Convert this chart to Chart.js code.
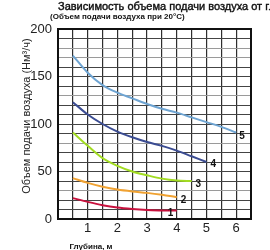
<!DOCTYPE html>
<html>
<head>
<meta charset="utf-8">
<script src="https://cdn.jsdelivr.net/npm/chart.js@4.4.1/dist/chart.umd.min.js"></script>
<style>
  html, body { margin: 0; padding: 0; background: #fff; }
  #wrap { width: 270px; height: 250px; }
</style>
</head>
<body>
<div id="wrap"><canvas id="airChart" width="270" height="250"></canvas></div>
<script>
// depth, m
const depth = [0.5, 1, 1.5, 2, 2.5, 3, 3.5, 4, 4.5, 5, 5.5, 6];

// air volume per curve (Nm3/h)
const curve1 = [22, 18, 14.5, 12, 10.5, 9.5, 9, 9];
const curve2 = [43, 38, 34, 31, 29, 27.5, 25.5, 23];
const curve3 = [91, 77, 64, 56, 50, 46, 42.5, 40.5, 40];
const curve4 = [123, 110, 100, 92, 86, 81, 77, 72, 66, 60];
const curve5 = [172, 154, 141, 133, 127, 121, 116, 112, 107, 102, 97, 91];

const curveNames = ['1', '2', '3', '4', '5'];
const curveColors = ['#c8123e', '#f0a232', '#a2dc22', '#3b4c92', '#6ea4d2'];
const yTickLabels = [0, 50, 100, 150, 200];
const xTickLabels = [1, 2, 3, 4, 5, 6];

const titleText = 'Зависимость объема подачи воздуха от глубины';
const subtitleText = '(Объем подачи воздуха при 20°C)';
const yTitle = 'Объем подачи воздуха (Нм³/ч)';
const xTitle = 'Глубина, м';

const allCurves = [curve1, curve2, curve3, curve4, curve5];

// label offsets next to each curve end
const labelShift = [[-9, 3], [4, 3], [4, 3], [4, 2], [3, 4]];

const datasets = allCurves.map((vals, i) => ({
    label: curveNames[i],
    data: vals.map((v, j) => ({ x: depth[j], y: v })),
    borderColor: curveColors[i],
    borderWidth: 2,
    pointRadius: 0,
    fill: false,
    cubicInterpolationMode: 'monotone'
}));

// texts around the plot + curve numbers
const textPlugin = {
    id: 'texts',
    afterDraw(chart) {
        const c = chart.ctx;
        const xs = chart.scales.x, ys = chart.scales.y;
        c.save();
        c.fillStyle = '#111';
        c.textBaseline = 'middle';
        c.textAlign = 'left';

        c.font = '11px Arial, "Liberation Sans", sans-serif';
        c.strokeStyle = '#111';
        c.lineWidth = 0.4;
        c.fillText(titleText, 58, 7);
        c.strokeText(titleText, 58, 7);
        c.font = 'bold 8px Arial, "Liberation Sans", sans-serif';
        c.fillText(subtitleText, 50, 17);

        c.font = 'bold 8px Arial, "Liberation Sans", sans-serif';
        c.textAlign = 'center';
        c.fillText(xTitle, 91, 247);

        c.save();
        c.translate(27, 116);
        c.rotate(-Math.PI / 2);
        c.font = '11px Arial, "Liberation Sans", sans-serif';
        c.fillStyle = '#222';
        c.fillText(yTitle, 0, 0);
        c.restore();

        // curve numbers
        c.font = 'bold 10px Arial, "Liberation Sans", sans-serif';
        c.textAlign = 'left';
        allCurves.forEach((vals, i) => {
            const last = vals.length - 1;
            const px = xs.getPixelForValue(depth[last]) + labelShift[i][0];
            const py = ys.getPixelForValue(vals[last]) + labelShift[i][1];
            c.fillText(curveNames[i], px, py);
        });

        // frame
        const a = chart.chartArea;
        c.strokeStyle = '#111';
        c.lineWidth = 2;
        c.strokeRect(a.left, a.top, a.right - a.left, a.bottom - a.top);
        c.restore();
    }
};

new Chart(document.getElementById('airChart'), {
    type: 'line',
    data: { datasets },
    options: {
        responsive: false,
        animation: false,
        layout: { padding: { left: 0, right: 19, top: 29, bottom: 0 } },
        plugins: {
            legend: { display: false },
            tooltip: { enabled: false }
        },
        scales: {
            x: {
                type: 'linear',
                min: 0,
                max: 6.5,
                afterFit(scale) { scale.height = 31; },
                ticks: {
                    stepSize: 0.5,
                    autoSkip: false,
                    maxRotation: 0,
                    padding: 2,
                    color: '#222',
                    font: { family: 'Arial', size: 13 },
                    callback: v => xTickLabels.includes(v) ? String(v) : ''
                },
                grid: { color: '#2e2e2e', lineWidth: 1.2, drawTicks: false },
                border: { color: '#111', width: 2 }
            },
            y: {
                min: 0,
                max: 200,
                afterFit(scale) { scale.width = 58; },
                ticks: {
                    stepSize: 10,
                    autoSkip: false,
                    padding: 6,
                    color: '#222',
                    font: { family: 'Arial', size: 13 },
                    callback: v => yTickLabels.includes(v) ? String(v) : ''
                },
                grid: {
                    color: ctx => (ctx.tick && [170, 180, 130, 80, 30].includes(ctx.tick.value)) ? '#9a9a9a' : '#444',
                    lineWidth: 1,
                    drawTicks: false
                },
                border: { color: '#111', width: 2 }
            }
        }
    },
    plugins: [textPlugin]
});
</script>
</body>
</html>
